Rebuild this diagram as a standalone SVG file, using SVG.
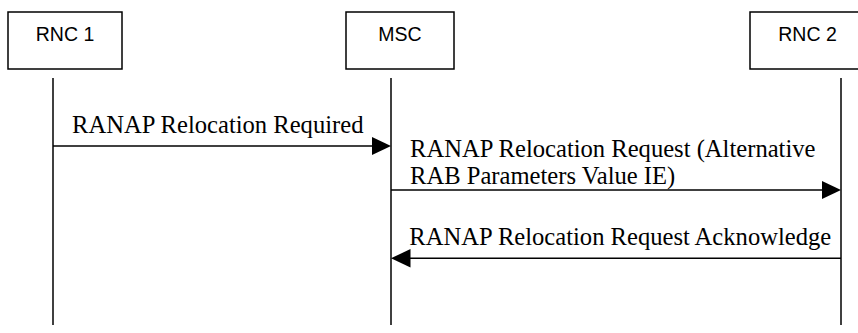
<svg xmlns="http://www.w3.org/2000/svg" width="858" height="333" viewBox="0 0 858 333">
<style>
.box{fill:#fff;stroke:#000;stroke-width:1.5}
.life{stroke:#000;stroke-width:1.5;fill:none}
.msg{stroke:#000;stroke-width:1.5;fill:none}
.head{fill:#000;stroke:none}
.nl{font-family:"Liberation Sans",Arial,sans-serif;font-size:19.5px;text-anchor:middle;fill:#000}
.ml{font-family:"Liberation Serif","Times New Roman",serif;font-size:24.6px;fill:#000}
</style>
<rect width="858" height="333" fill="#fff"/>
<g id="rnc1">
<rect class="box" x="8" y="12" width="114" height="57"/>
<text class="nl" x="65" y="40.5">RNC 1</text>
<line class="life" x1="53" y1="78" x2="53" y2="325"/>
</g>
<g id="msc">
<rect class="box" x="346" y="12" width="108" height="57"/>
<text class="nl" x="400" y="40.5">MSC</text>
<line class="life" x1="391" y1="78" x2="391" y2="325"/>
</g>
<g id="rnc2">
<rect class="box" x="750" y="12" width="114" height="57"/>
<text class="nl" x="807.5" y="40.5">RNC 2</text>
<line class="life" x1="841" y1="78" x2="841" y2="325"/>
</g>
<g id="connectors">
<line class="msg" x1="53" y1="146" x2="374" y2="146"/>
<polygon class="head" points="391,146 372,137 372,155"/>
<text class="ml" x="72" y="133">RANAP Relocation Required</text>
<line class="msg" x1="391" y1="190" x2="824" y2="190"/>
<polygon class="head" points="841,190 822,181 822,199"/>
<text class="ml" x="410" y="156.7">RANAP Relocation Request (Alternative</text>
<text class="ml" x="410" y="184.3">RAB Parameters Value IE)</text>
<line class="msg" x1="408" y1="258.3" x2="841" y2="258.3"/>
<polygon class="head" points="391,258.3 410.5,249 410.5,267.6"/>
<text class="ml" x="409.3" y="245">RANAP Relocation Request Acknowledge</text>
</g>
</svg>
